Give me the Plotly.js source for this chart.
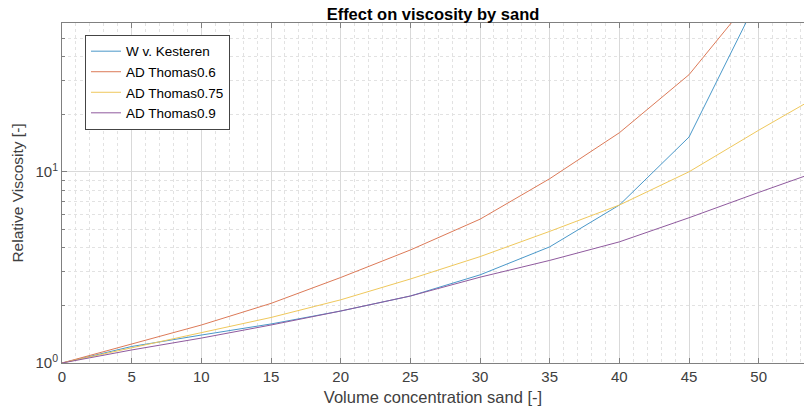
<!DOCTYPE html>
<html>
<head>
<meta charset="utf-8">
<script src="https://cdn.plot.ly/plotly-3.0.1.min.js"></script>
<style>html,body{margin:0;padding:0;background:#fff;}#chart{width:804px;height:412px;}</style>
</head>
<body>
<div id="chart"></div>
<script>
const concentration = [0, 5, 10, 15, 20, 25, 30, 35, 40, 45, 50, 55];
const kesteren   = [1, 1.22, 1.40, 1.60, 1.87, 2.24, 2.89, 4.05, 6.7, 15.2, 82, 500];
const thomas060  = [1, 1.26, 1.58, 2.05, 2.80, 3.90, 5.65, 9.2, 16.0, 32.2, 90, 400];
const thomas075  = [1, 1.20, 1.44, 1.73, 2.14, 2.75, 3.60, 4.88, 6.7, 10.0, 16.5, 26.7];
const thomas090  = [1, 1.17, 1.35, 1.58, 1.87, 2.24, 2.81, 3.44, 4.3, 5.75, 7.8, 10.5];
const seriesNames = ['W v. Kesteren', 'AD Thomas0.6', 'AD Thomas0.75', 'AD Thomas0.9'];
const xTickVals = [0, 5, 10, 15, 20, 25, 30, 35, 40, 45, 50];
const yTickVals = [1, 10];
const yTickText = ['10<sup>0</sup>', '10<sup>1</sup>'];

const colors = ['#4a98c9', '#dc7a58', '#efc85c', '#8f5a9e'];
const ys = [kesteren, thomas060, thomas075, thomas090];
const traces = ys.map((y, i) => ({
  x: concentration, y: y, name: seriesNames[i], type: 'scatter', mode: 'lines',
  line: {color: colors[i], width: 1}
}));

const font = 'Liberation Sans, Arial, Helvetica, sans-serif';
const layout = {
  width: 804, height: 412,
  margin: {l: 62, r: 0, t: 23, b: 49},
  paper_bgcolor: '#fff', plot_bgcolor: '#fff',
  font: {family: font, color: '#404040'},
  showlegend: true,
  title: {text: '<b>Effect on viscosity by sand</b>', font: {size: 16.5, color: '#000', family: font},
          xref: 'paper', x: 0.5, xanchor: 'center', yref: 'container', y: 1 - 14/412, yanchor: 'middle'},
  xaxis: {
    range: [0, 53.25], tickvals: xTickVals, ticks: 'inside', ticklen: 5, tickcolor: '#808080',
    showline: true, linecolor: '#808080', linewidth: 1, mirror: 'ticks', zeroline: false,
    showgrid: true, gridcolor: '#d9d9d9', gridwidth: 1,
    minor: {dtick: 1, showgrid: true, gridcolor: '#e2e2e2', griddash: 'dot', ticks: ''},
    tickfont: {size: 15, color: '#404040'},
    title: {text: 'Volume concentration sand [-]', font: {size: 16.5, color: '#404040'}, standoff: 7},
    automargin: false
  },
  yaxis: {
    type: 'log', range: [0, Math.log10(60)], tickvals: yTickVals, ticktext: yTickText,
    ticks: 'inside', ticklen: 5, tickcolor: '#808080',
    showline: true, linecolor: '#808080', linewidth: 1, mirror: false, zeroline: false,
    showgrid: true, gridcolor: '#d9d9d9', gridwidth: 1,
    minor: {dtick: 'D1', showgrid: true, gridcolor: '#e2e2e2', griddash: 'dot', ticks: 'inside', ticklen: 3, tickcolor: '#808080'},
    tickfont: {size: 15, color: '#404040'},
    title: {text: 'Relative Viscosity [-]', font: {size: 15.5, color: '#404040'}, standoff: 8},
    automargin: false
  },
  legend: {
    x: 0.031, y: 0.965, xanchor: 'left', yanchor: 'top',
    bgcolor: '#fff', bordercolor: '#444', borderwidth: 1,
    font: {size: 13.5, color: '#000', family: font}
  }
};
Plotly.newPlot('chart', traces, layout, {displayModeBar: false, staticPlot: true});
</script>
</body>
</html>
